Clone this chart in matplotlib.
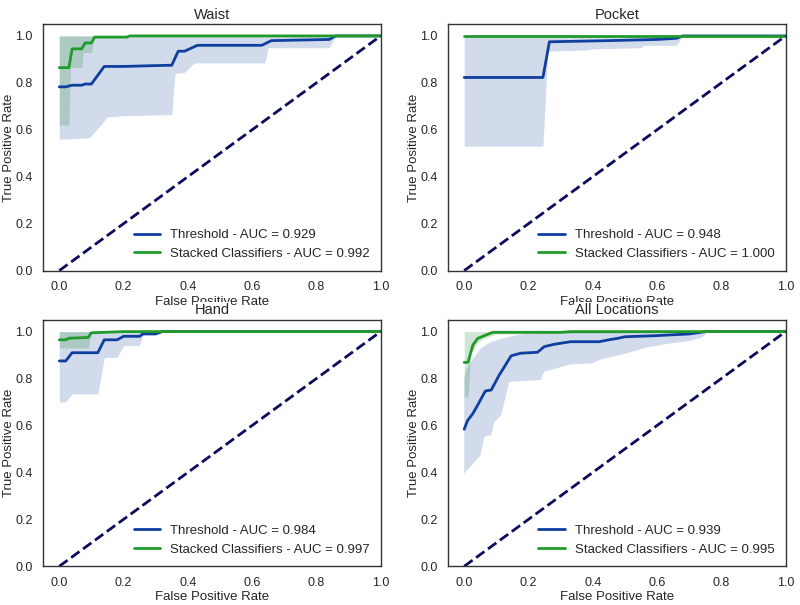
import matplotlib
matplotlib.use("Agg")
import matplotlib.pyplot as plt
import seaborn as sns

# Data (FPR / TPR / band)
titles = ["Waist", "Pocket", "Hand", "All Locations"]
thr_auc = [0.929, 0.948, 0.984, 0.939]
stk_auc = [0.992, 1.000, 0.997, 0.995]

# Waist
waist_thr_fpr = [0.0, 0.02, 0.04, 0.07, 0.08, 0.10, 0.14, 0.20, 0.34, 0.35, 0.37, 0.39, 0.43, 0.63, 0.66, 0.84, 0.86, 1.0]
waist_thr_tpr = [0.783, 0.783, 0.79, 0.79, 0.795, 0.795, 0.87, 0.87, 0.875, 0.875, 0.935, 0.935, 0.96, 0.96, 0.98, 0.985, 1.0, 1.0]
waist_thr_lo_fpr = [0.0, 0.09, 0.10, 0.15, 0.20, 0.35, 0.36, 0.39, 0.42, 0.64, 0.65, 0.84, 0.86, 1.0]
waist_thr_lo = [0.56, 0.565, 0.575, 0.655, 0.66, 0.665, 0.84, 0.845, 0.885, 0.885, 0.95, 0.95, 1.0, 1.0]
waist_stk_fpr = [0.0, 0.03, 0.04, 0.07, 0.08, 0.10, 0.11, 0.21, 0.22, 1.0]
waist_stk_tpr = [0.865, 0.865, 0.945, 0.945, 0.97, 0.97, 0.995, 0.995, 1.0, 1.0]
waist_stk_lo_fpr = [0.0, 0.03, 0.035, 0.07, 0.075, 0.10, 0.11, 1.0]
waist_stk_lo = [0.62, 0.62, 0.865, 0.865, 0.93, 0.93, 1.0, 1.0]

# Pocket
pocket_thr_fpr = [0.0, 0.245, 0.265, 0.45, 0.60, 0.66, 0.68, 1.0]
pocket_thr_tpr = [0.823, 0.823, 0.975, 0.98, 0.985, 0.99, 1.0, 1.0]
pocket_thr_lo_fpr = [0.0, 0.245, 0.26, 0.38, 0.40, 0.55, 0.56, 0.66, 0.68, 1.0]
pocket_thr_lo = [0.53, 0.53, 0.935, 0.94, 0.945, 0.95, 0.96, 0.96, 1.0, 1.0]
pocket_stk_fpr = [0.0, 1.0]
pocket_stk_tpr = [1.0, 1.0]
pocket_stk_lo_fpr = [0.0, 1.0]
pocket_stk_lo = [1.0, 1.0]

# Hand
hand_thr_fpr = [0.0, 0.02, 0.04, 0.12, 0.14, 0.18, 0.20, 0.25, 0.26, 0.30, 0.32, 1.0]
hand_thr_tpr = [0.875, 0.875, 0.91, 0.91, 0.965, 0.965, 0.98, 0.98, 0.99, 0.99, 1.0, 1.0]
hand_thr_lo_fpr = [0.0, 0.02, 0.04, 0.12, 0.14, 0.18, 0.20, 0.25, 0.26, 0.32, 1.0]
hand_thr_lo = [0.70, 0.70, 0.735, 0.735, 0.89, 0.89, 0.94, 0.94, 0.99, 1.0, 1.0]
hand_stk_fpr = [0.0, 0.02, 0.03, 0.09, 0.10, 0.20, 1.0]
hand_stk_tpr = [0.965, 0.965, 0.972, 0.975, 0.995, 1.0, 1.0]
hand_stk_lo_fpr = [0.0, 0.09, 0.10, 1.0]
hand_stk_lo = [0.93, 0.93, 1.0, 1.0]

# All locations
all_thr_fpr = [0.0, 0.01, 0.027, 0.042, 0.055, 0.066, 0.084, 0.109, 0.125, 0.146, 0.176, 0.228, 0.249,
               0.28, 0.331, 0.42, 0.45, 0.48, 0.50, 0.60, 0.70, 0.75, 1.0]
all_thr_tpr = [0.584, 0.62, 0.651, 0.687, 0.72, 0.747, 0.751, 0.815, 0.85, 0.897, 0.908, 0.912, 0.936,
               0.946, 0.957, 0.957, 0.965, 0.972, 0.978, 0.983, 0.99, 1.0, 1.0]
all_thr_lo_fpr = [0.0, 0.032, 0.05, 0.063, 0.084, 0.094, 0.115, 0.14, 0.238, 0.249, 0.33, 0.40, 0.42,
                  0.50, 0.56, 0.62, 0.70, 0.74, 0.76, 1.0]
all_thr_lo = [0.395, 0.444, 0.47, 0.551, 0.56, 0.615, 0.643, 0.786, 0.794, 0.829, 0.86, 0.865, 0.88,
              0.905, 0.93, 0.945, 0.96, 0.975, 1.0, 1.0]
all_thr_hi_fpr = [0.0, 0.006, 0.02, 0.053, 0.084, 0.136, 0.186, 0.30, 0.40, 1.0]
all_thr_hi = [0.80, 0.836, 0.87, 0.93, 0.956, 0.977, 0.99, 0.995, 1.0, 1.0]
all_stk_fpr = [0.0, 0.012, 0.02, 0.027, 0.042, 0.063, 0.089, 0.30, 0.33, 1.0]
all_stk_tpr = [0.869, 0.869, 0.91, 0.943, 0.971, 0.983, 0.997, 0.997, 1.0, 1.0]
all_stk_lo_fpr = [0.0, 0.012, 0.02, 0.04, 0.06, 0.10, 1.0]
all_stk_lo = [0.722, 0.722, 0.90, 0.95, 0.97, 0.99, 1.0]

panels = [
    (waist_thr_fpr, waist_thr_tpr, waist_thr_lo_fpr, waist_thr_lo, None, None,
     waist_stk_fpr, waist_stk_tpr, waist_stk_lo_fpr, waist_stk_lo),
    (pocket_thr_fpr, pocket_thr_tpr, pocket_thr_lo_fpr, pocket_thr_lo, None, None,
     pocket_stk_fpr, pocket_stk_tpr, pocket_stk_lo_fpr, pocket_stk_lo),
    (hand_thr_fpr, hand_thr_tpr, hand_thr_lo_fpr, hand_thr_lo, None, None,
     hand_stk_fpr, hand_stk_tpr, hand_stk_lo_fpr, hand_stk_lo),
    (all_thr_fpr, all_thr_tpr, all_thr_lo_fpr, all_thr_lo, all_thr_hi_fpr, all_thr_hi,
     all_stk_fpr, all_stk_tpr, all_stk_lo_fpr, all_stk_lo),
]

blue = "#0f3f9e"
green = "#1f9a2b"

sns.set_style("white")
plt.rcParams["font.family"] = ["Liberation Sans", "DejaVu Sans"]

fig, axes = plt.subplots(2, 2, figsize=(8, 6.05), dpi=100)
fig.subplots_adjust(left=0.054, right=0.982, bottom=0.064, top=0.960, wspace=0.2, hspace=0.2)

for ax, title, ta, sa, p in zip(axes.flat, titles, thr_auc, stk_auc, panels):
    tf, tt, tlf, tl, thf, th, sf, st, slf, sl = p
    if thf is None:
        # band upper edge sits at 1.0
        ax.fill_between(tlf, tl, 1.0, color="#1f4fa0", alpha=0.2, lw=0)
    else:
        # band with its own upper edge
        ax.fill(list(tlf) + list(thf)[::-1], list(tl) + list(th)[::-1],
                color="#1f4fa0", alpha=0.2, lw=0)
    ax.fill_between(slf, sl, 1.0, color="#148228", alpha=0.2, lw=0)
    ax.plot(tf, tt, color=blue, lw=2, label="Threshold - AUC = %.3f" % ta)
    ax.plot(sf, st, color=green, lw=2, label="Stacked Classifiers - AUC = %.3f" % sa)
    ax.plot([0, 1], [0, 1], color="#0b0b5e", lw=2, ls="--")
    ax.set_xlim(-0.05, 1.0)
    ax.set_ylim(0.0, 1.05)
    ax.set_title(title, fontsize=10.5, pad=4)
    ax.set_xlabel("False Positive Rate", fontsize=9.5, labelpad=2)
    ax.set_ylabel("True Positive Rate", fontsize=9.5, labelpad=0)
    ax.tick_params(labelsize=9, pad=4)
    for s in ax.spines.values():
        s.set_color("#333333")
        s.set_linewidth(1.0)
    ax.legend(loc="lower right", fontsize=9.5, frameon=False, handlelength=2.0, borderaxespad=0.4)

# lower-row titles sit over the upper x labels, as in the source image
for ax in axes[1]:
    ax.title.set_bbox(dict(facecolor="white", edgecolor="none", pad=1))

fig.savefig("out.png", dpi=100)
